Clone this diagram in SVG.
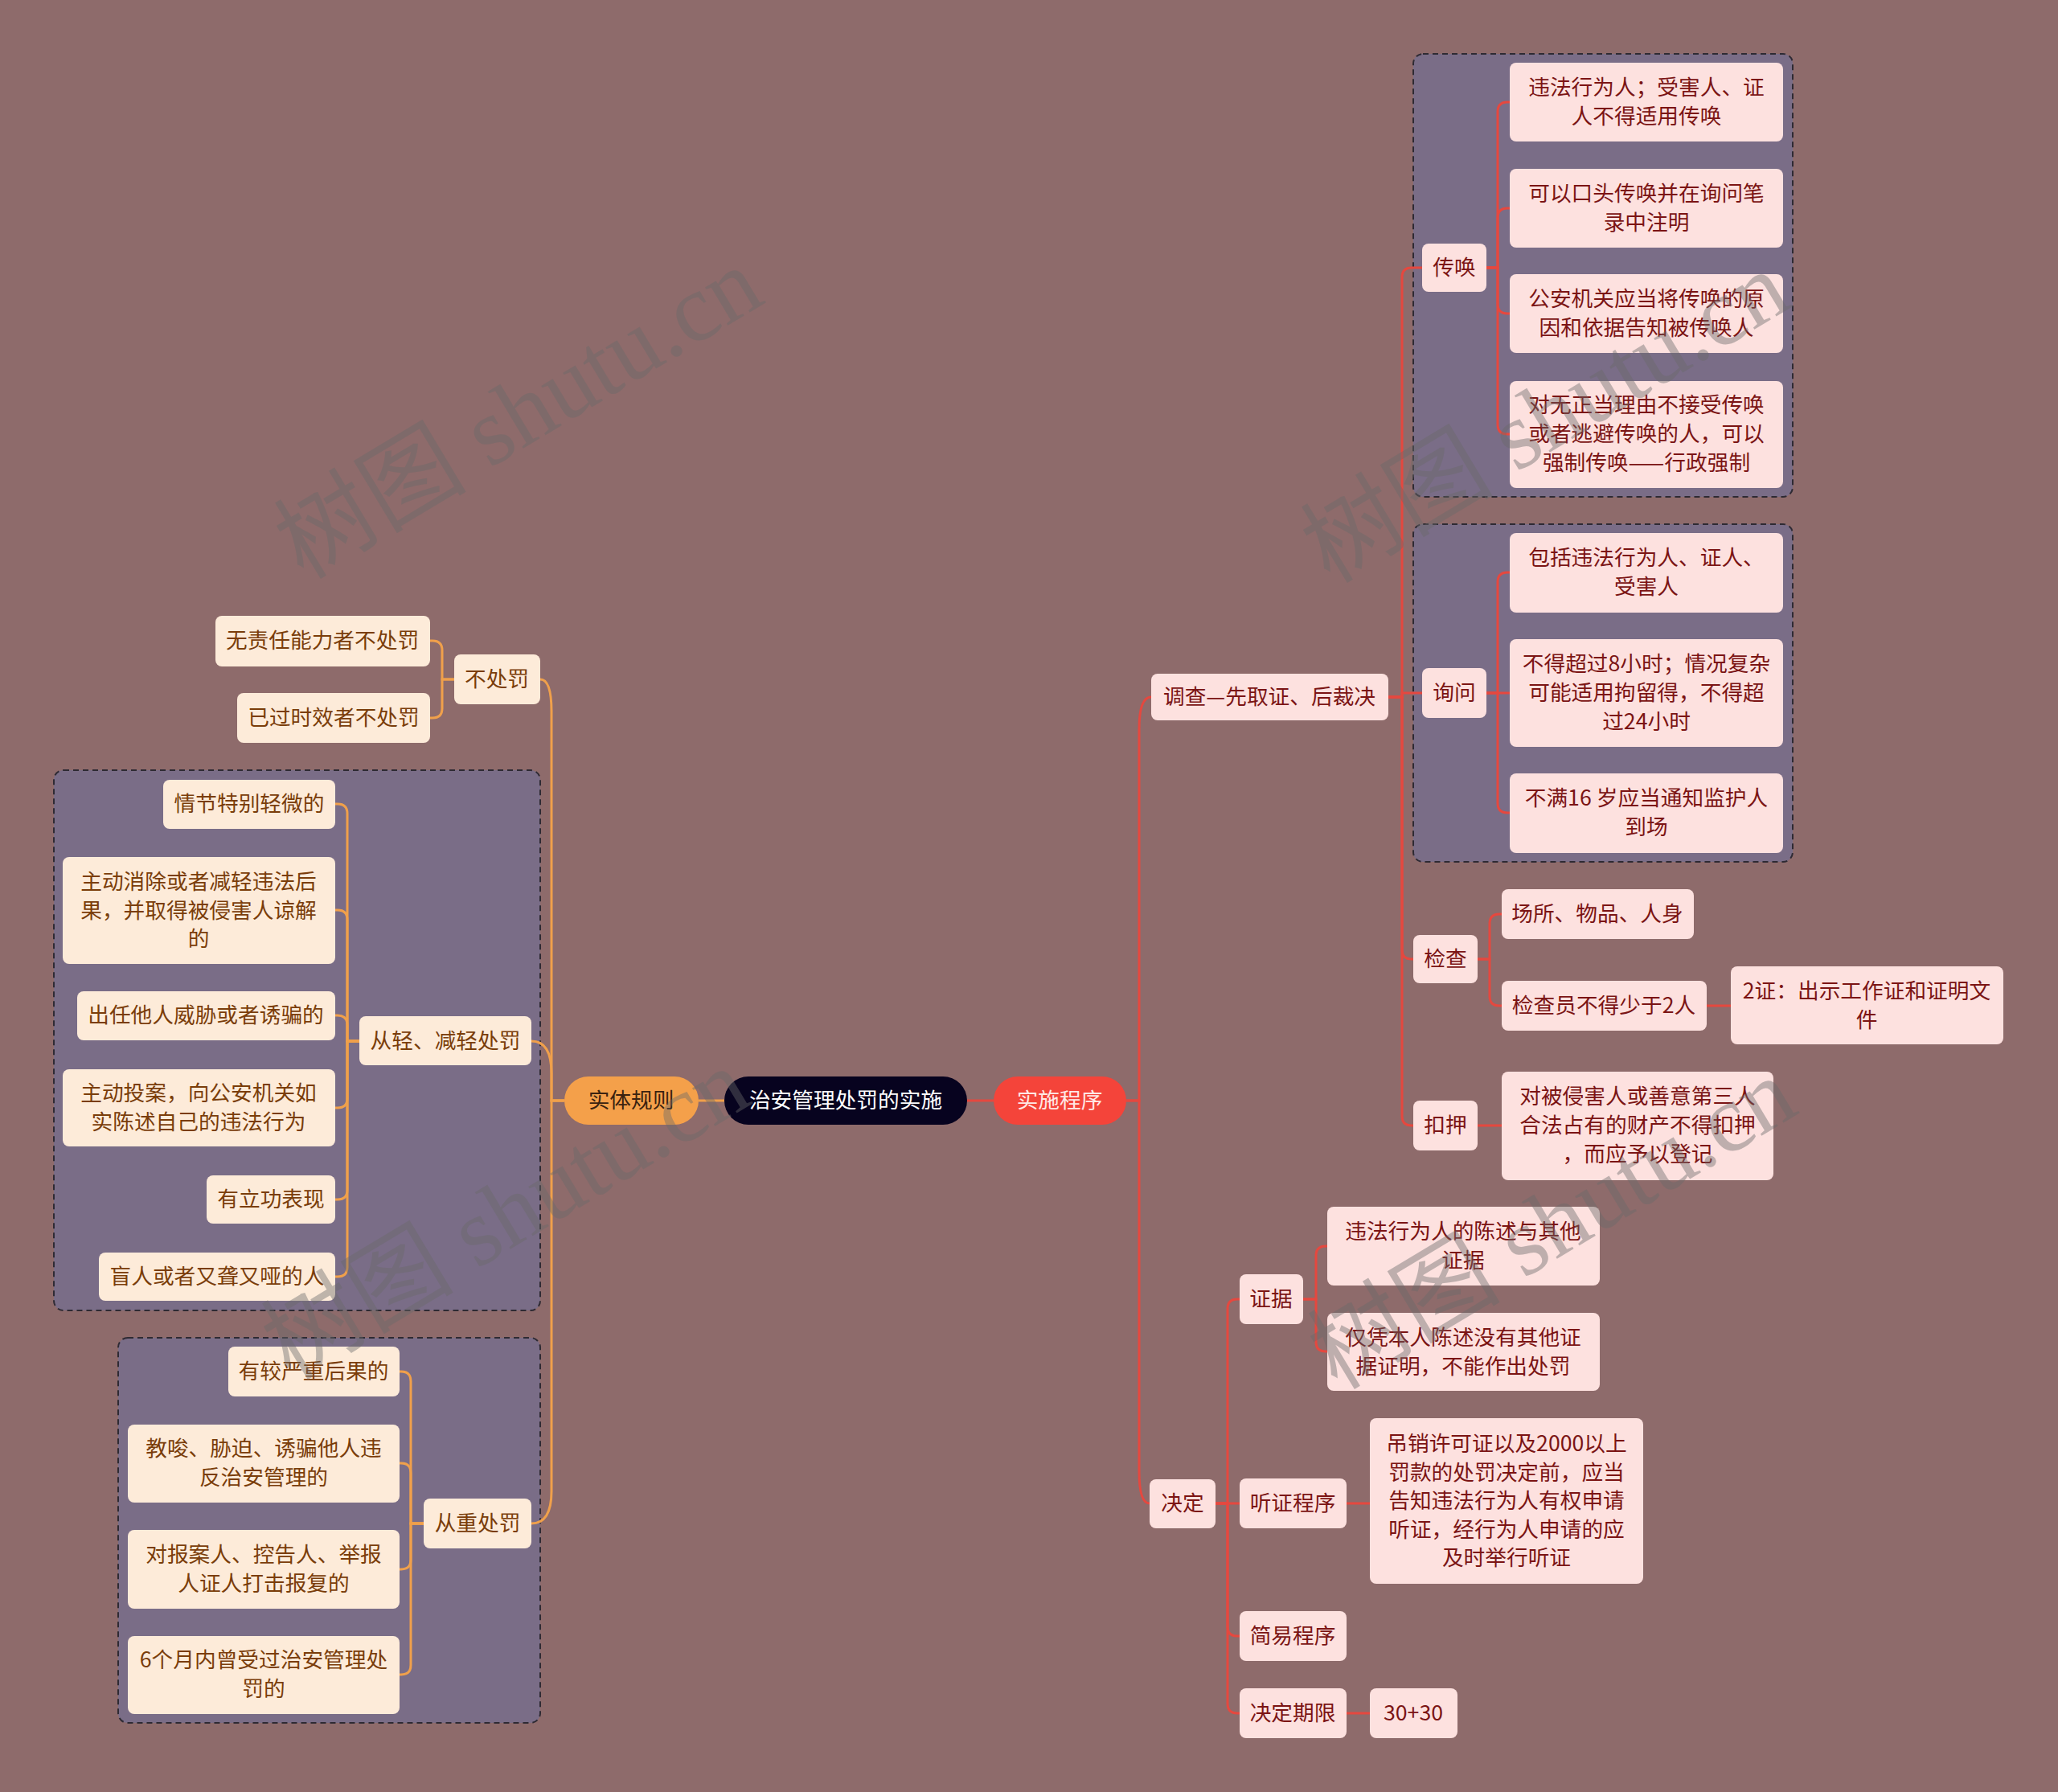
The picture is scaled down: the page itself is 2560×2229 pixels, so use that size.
<svg xmlns="http://www.w3.org/2000/svg" width="2560" height="2229" viewBox="0 0 2560 2229">
<style>
text{font-family:"Noto Sans CJK SC","Noto Sans",sans-serif;font-size:26.7px;text-anchor:middle;dominant-baseline:central}
.rt,.lt,.ct{transform:translateY(-3px)}
.rn{fill:#fde1df}
.rt{fill:#7b1414}
.ln{fill:#fdebd9}
.lt{fill:#7a3d0a}
.box{fill:#7a6d87;stroke:#2e2a33;stroke-width:2;stroke-dasharray:7 5}
.rc{fill:none;stroke:#e5483f;stroke-width:3}
.oc{fill:none;stroke:#f0a04b;stroke-width:3}
.wm{font-family:"Liberation Serif","Noto Sans CJK SC",serif;font-size:120px;fill:#6a6a6a;opacity:.42;text-anchor:middle}
</style>
<rect width="2560" height="2229" fill="#8e6b6b"/>

<g id="boxes">
<rect class="box" x="1758" y="67" width="472" height="551" rx="12"/>
<rect class="box" x="1758" y="652" width="472" height="420" rx="12"/>
<rect class="box" x="67" y="958" width="605" height="672" rx="12"/>
<rect class="box" x="147" y="1664" width="525" height="479" rx="12"/>
</g>

<g id="connectors">
<path class="rc" d="M1203 1369H1236"/>
<path class="oc" d="M901 1369H869"/>
<path class="rc" d="M1401 1369H1417V907Q1417 867 1432 867"/>
<path class="rc" d="M1401 1369H1417V1830Q1417 1870 1430 1870"/>
<path class="rc" d="M1727 867H1744V345Q1744 333 1756 333H1769"/>
<path class="rc" d="M1727 867H1744V862H1769"/>
<path class="rc" d="M1727 867H1744V1181Q1744 1193 1756 1193H1758"/>
<path class="rc" d="M1727 867H1744V1388Q1744 1400 1756 1400H1758"/>
<path class="rc" d="M1849 333H1863V139Q1863 127 1875 127H1878"/>
<path class="rc" d="M1849 333H1863V271Q1863 259 1875 259H1878"/>
<path class="rc" d="M1849 333H1863V378Q1863 390 1875 390H1878"/>
<path class="rc" d="M1849 333H1863V528Q1863 540 1875 540H1878"/>
<path class="rc" d="M1849 862H1863V724Q1863 712 1875 712H1878"/>
<path class="rc" d="M1849 862H1878"/>
<path class="rc" d="M1849 862H1863V999Q1863 1011 1875 1011H1878"/>
<path class="rc" d="M1838 1193H1853V1149Q1853 1137 1865 1137H1868"/>
<path class="rc" d="M1838 1193H1853V1239Q1853 1251 1865 1251H1868"/>
<path class="rc" d="M2123 1251H2153"/>
<path class="rc" d="M1838 1400H1868"/>
<path class="rc" d="M1512 1870H1527V1628Q1527 1616 1539 1616H1542"/>
<path class="rc" d="M1512 1870H1542"/>
<path class="rc" d="M1512 1870H1527V2023Q1527 2035 1539 2035H1542"/>
<path class="rc" d="M1512 1870H1527V2119Q1527 2131 1539 2131H1542"/>
<path class="rc" d="M1621 1616H1637V1562Q1637 1550 1649 1550H1651"/>
<path class="rc" d="M1621 1616H1637V1669Q1637 1681 1649 1681H1651"/>
<path class="rc" d="M1675 1870H1704"/>
<path class="rc" d="M1675 2131H1704"/>
<path class="oc" d="M702 1369H686V885Q686 845 672 845"/>
<path class="oc" d="M702 1369H686V1335Q686 1295 661 1295"/>
<path class="oc" d="M702 1369H686V1855Q686 1895 661 1895"/>
<path class="oc" d="M565 845H550V809Q550 797 538 797H535"/>
<path class="oc" d="M565 845H550V881Q550 893 538 893H535"/>
<path class="oc" d="M447 1295H432V1012Q432 1000 420 1000H417"/>
<path class="oc" d="M447 1295H432V1144Q432 1132 420 1132H417"/>
<path class="oc" d="M447 1295H432V1275Q432 1263 420 1263H417"/>
<path class="oc" d="M447 1295H432V1366Q432 1378 420 1378H417"/>
<path class="oc" d="M447 1295H432V1480Q432 1492 420 1492H417"/>
<path class="oc" d="M447 1295H432V1576Q432 1588 420 1588H417"/>
<path class="oc" d="M527 1895H511V1718Q511 1706 499 1706H497"/>
<path class="oc" d="M527 1895H511V1832Q511 1820 499 1820H497"/>
<path class="oc" d="M527 1895H511V1940Q511 1952 499 1952H497"/>
<path class="oc" d="M527 1895H511V2071Q511 2083 499 2083H497"/>
</g>

<g id="n-center"><rect x="901" y="1339" width="302" height="60" rx="30" fill="#07031f"/><text class="ct" x="1052" y="1369" fill="#ffffff">治安管理处罚的实施</text></g>
<g id="n-shishi"><rect x="1236" y="1339" width="165" height="60" rx="30" fill="#f4443a"/><text class="ct" x="1318" y="1369" fill="#ffe8e6">实施程序</text></g>
<g id="n-shiti"><rect x="702" y="1339" width="167" height="60" rx="30" fill="#f4a04a"/><text class="ct" x="785" y="1369" fill="#3a2210">实体规则</text></g>

<g id="n-diaocha"><rect class="rn" x="1432" y="838" width="295" height="58" rx="8"/><text class="rt" x="1579" y="867">调查—先取证、后裁决</text></g>
<g id="n-chuanhuan"><rect class="rn" x="1769" y="303" width="80" height="60" rx="8"/><text class="rt" x="1809" y="333">传唤</text></g>
<g id="n-ch1"><rect class="rn" x="1878" y="78" width="340" height="98" rx="8"/><text class="rt" x="2048" y="109">违法行为人；受害人、证<tspan x="2048" dy="36">人不得适用传唤</tspan></text></g>
<g id="n-ch2"><rect class="rn" x="1878" y="210" width="340" height="98" rx="8"/><text class="rt" x="2048" y="241">可以口头传唤并在询问笔<tspan x="2048" dy="36">录中注明</tspan></text></g>
<g id="n-ch3"><rect class="rn" x="1878" y="341" width="340" height="98" rx="8"/><text class="rt" x="2048" y="372">公安机关应当将传唤的原<tspan x="2048" dy="36">因和依据告知被传唤人</tspan></text></g>
<g id="n-ch4"><rect class="rn" x="1878" y="474" width="340" height="133" rx="8"/><text class="rt" x="2048" y="504">对无正当理由不接受传唤<tspan x="2048" dy="36">或者逃避传唤的人，可以</tspan><tspan x="2048" dy="36">强制传唤——行政强制</tspan></text></g>

<g id="n-xunwen"><rect class="rn" x="1769" y="831" width="80" height="62" rx="8"/><text class="rt" x="1809" y="862">询问</text></g>
<g id="n-q1"><rect class="rn" x="1878" y="663" width="340" height="99" rx="8"/><text class="rt" x="2048" y="694">包括违法行为人、证人、<tspan x="2048" dy="36">受害人</tspan></text></g>
<g id="n-q2"><rect class="rn" x="1878" y="795" width="340" height="134" rx="8"/><text class="rt" x="2048" y="826">不得超过8小时；情况复杂<tspan x="2048" dy="36">可能适用拘留得，不得超</tspan><tspan x="2048" dy="36">过24小时</tspan></text></g>
<g id="n-q3"><rect class="rn" x="1878" y="962" width="340" height="99" rx="8"/><text class="rt" x="2048" y="993">不满16 岁应当通知监护人<tspan x="2048" dy="36">到场</tspan></text></g>

<g id="n-jiancha"><rect class="rn" x="1758" y="1163" width="80" height="60" rx="8"/><text class="rt" x="1798" y="1193">检查</text></g>
<g id="n-jc1"><rect class="rn" x="1868" y="1106" width="239" height="62" rx="8"/><text class="rt" x="1987" y="1137">场所、物品、人身</text></g>
<g id="n-jc2"><rect class="rn" x="1868" y="1220" width="255" height="62" rx="8"/><text class="rt" x="1995" y="1251">检查员不得少于2人</text></g>
<g id="n-jc3"><rect class="rn" x="2153" y="1202" width="339" height="97" rx="8"/><text class="rt" x="2322" y="1233">2证：出示工作证和证明文<tspan x="2322" dy="36">件</tspan></text></g>

<g id="n-kouya"><rect class="rn" x="1758" y="1369" width="80" height="62" rx="8"/><text class="rt" x="1798" y="1400">扣押</text></g>
<g id="n-ky1"><rect class="rn" x="1868" y="1333" width="338" height="135" rx="8"/><text class="rt" x="2037" y="1364">对被侵害人或善意第三人<tspan x="2037" dy="36">合法占有的财产不得扣押</tspan><tspan x="2037" dy="36">，而应予以登记</tspan></text></g>

<g id="n-jueding"><rect class="rn" x="1430" y="1840" width="82" height="61" rx="8"/><text class="rt" x="1471" y="1870">决定</text></g>
<g id="n-zhengju"><rect class="rn" x="1542" y="1585" width="79" height="62" rx="8"/><text class="rt" x="1581" y="1616">证据</text></g>
<g id="n-zj1"><rect class="rn" x="1651" y="1501" width="339" height="98" rx="8"/><text class="rt" x="1820" y="1532">违法行为人的陈述与其他<tspan x="1820" dy="36">证据</tspan></text></g>
<g id="n-zj2"><rect class="rn" x="1651" y="1633" width="339" height="97" rx="8"/><text class="rt" x="1820" y="1664">仅凭本人陈述没有其他证<tspan x="1820" dy="36">据证明，不能作出处罚</tspan></text></g>
<g id="n-tingzheng"><rect class="rn" x="1542" y="1839" width="133" height="62" rx="8"/><text class="rt" x="1608" y="1870">听证程序</text></g>
<g id="n-tz1"><rect class="rn" x="1704" y="1764" width="340" height="206" rx="8"/><text class="rt" x="1874" y="1796">吊销许可证以及2000以上<tspan x="1874" dy="35.5">罚款的处罚决定前，应当</tspan><tspan x="1874" dy="35.5">告知违法行为人有权申请</tspan><tspan x="1874" dy="35.5">听证，经行为人申请的应</tspan><tspan x="1874" dy="35.5">及时举行听证</tspan></text></g>
<g id="n-jianyi"><rect class="rn" x="1542" y="2004" width="133" height="62" rx="8"/><text class="rt" x="1608" y="2035">简易程序</text></g>
<g id="n-qixian"><rect class="rn" x="1542" y="2100" width="133" height="62" rx="8"/><text class="rt" x="1608" y="2131">决定期限</text></g>
<g id="n-3030"><rect class="rn" x="1704" y="2100" width="109" height="62" rx="8"/><text class="rt" x="1758" y="2131">30+30</text></g>

<g id="n-buchufa"><rect class="ln" x="565" y="814" width="107" height="62" rx="8"/><text class="lt" x="618" y="845">不处罚</text></g>
<g id="n-bc1"><rect class="ln" x="268" y="766" width="267" height="63" rx="8"/><text class="lt" x="401" y="797">无责任能力者不处罚</text></g>
<g id="n-bc2"><rect class="ln" x="295" y="862" width="240" height="62" rx="8"/><text class="lt" x="415" y="893">已过时效者不处罚</text></g>

<g id="n-congqing"><rect class="ln" x="447" y="1264" width="214" height="61" rx="8"/><text class="lt" x="554" y="1295">从轻、减轻处罚</text></g>
<g id="n-cq1"><rect class="ln" x="203" y="970" width="214" height="61" rx="8"/><text class="lt" x="310" y="1000">情节特别轻微的</text></g>
<g id="n-cq2"><rect class="ln" x="78" y="1066" width="339" height="133" rx="8"/><text class="lt" x="247" y="1097">主动消除或者减轻违法后<tspan x="247" dy="35.5">果，并取得被侵害人谅解</tspan><tspan x="247" dy="35.5">的</tspan></text></g>
<g id="n-cq3"><rect class="ln" x="96" y="1233" width="321" height="61" rx="8"/><text class="lt" x="256" y="1263">出任他人威胁或者诱骗的</text></g>
<g id="n-cq4"><rect class="ln" x="78" y="1330" width="339" height="96" rx="8"/><text class="lt" x="247" y="1360">主动投案，向公安机关如<tspan x="247" dy="35.5">实陈述自己的违法行为</tspan></text></g>
<g id="n-cq5"><rect class="ln" x="257" y="1462" width="160" height="60" rx="8"/><text class="lt" x="337" y="1492">有立功表现</text></g>
<g id="n-cq6"><rect class="ln" x="123" y="1558" width="294" height="60" rx="8"/><text class="lt" x="270" y="1588">盲人或者又聋又哑的人</text></g>

<g id="n-congzhong"><rect class="ln" x="527" y="1864" width="134" height="62" rx="8"/><text class="lt" x="594" y="1895">从重处罚</text></g>
<g id="n-cz1"><rect class="ln" x="284" y="1675" width="213" height="62" rx="8"/><text class="lt" x="390" y="1706">有较严重后果的</text></g>
<g id="n-cz2"><rect class="ln" x="159" y="1772" width="338" height="97" rx="8"/><text class="lt" x="328" y="1802">教唆、胁迫、诱骗他人违<tspan x="328" dy="36">反治安管理的</tspan></text></g>
<g id="n-cz3"><rect class="ln" x="159" y="1903" width="338" height="98" rx="8"/><text class="lt" x="328" y="1934">对报案人、控告人、举报<tspan x="328" dy="36">人证人打击报复的</tspan></text></g>
<g id="n-cz4"><rect class="ln" x="159" y="2035" width="338" height="97" rx="8"/><text class="lt" x="328" y="2065">6个月内曾受过治安管理处<tspan x="328" dy="36">罚的</tspan></text></g>

<g id="watermarks">
<text class="wm" transform="translate(645 514) rotate(-31)">树图 shutu.cn</text>
<text class="wm" transform="translate(629 1510) rotate(-31)">树图 shutu.cn</text>
<text class="wm" transform="translate(1922 519) rotate(-31)">树图 shutu.cn</text>
<text class="wm" transform="translate(1931 1522) rotate(-31)">树图 shutu.cn</text>
</g>
</svg>
